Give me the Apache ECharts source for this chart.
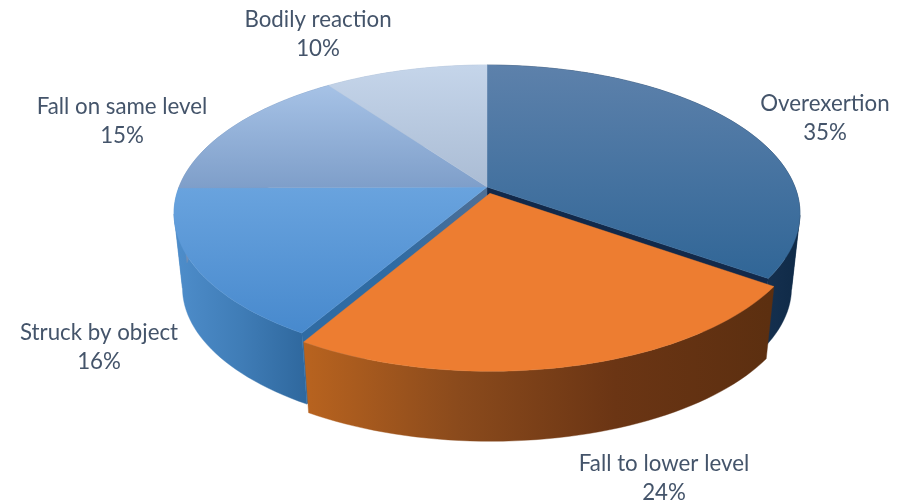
<!DOCTYPE html>
<html>
<head>
<meta charset="utf-8">
<script src="https://cdn.jsdelivr.net/npm/echarts@6/dist/echarts.min.js"></script>
<style>
html, body { margin: 0; padding: 0; background: #fff; }
#main { width: 901px; height: 504px; }
</style>
</head>
<body>
<div id="main"></div>
<script>
var categories = ['Overexertion', 'Fall to lower level', 'Struck by object', 'Fall on same level', 'Bodily reaction'];
var values = [34.7, 23.8, 16.4, 15.1, 10];

// fake 3D camera, fitted to the picture
var cx = 487, cy = 187, rx = 308, ry = 143.7, persp = 0.178;
var depth = 75, floorScale = 0.973, explodeBy = 0.045;
var explodedIndex = 1;

function vgrad(y1, y2, c1, c2) {
    return { type: 'linear', x: 0, y: y1, x2: 0, y2: y2, global: true,
        colorStops: [{ offset: 0, color: c1 }, { offset: 1, color: c2 }] };
}
function hgrad(x1, x2, stops) {
    return { type: 'linear', x: x1, y: 0, x2: x2, y2: 0, global: true,
        colorStops: stops.map(function (c, i) { return { offset: i / (stops.length - 1), color: c }; }) };
}

var topFills = [
    vgrad(65, 285, '#5d81ab', '#2f6596'),
    '#ed7d31',
    vgrad(187, 335, '#69a3de', '#4789cd'),
    vgrad(85, 189, '#a6c2e6', '#7e9ec9'),
    vgrad(65, 187, '#c5d5ea', '#aabcd4')
];
var sideFills = [
    hgrad(765, 800, ['#15304f', '#0f2a47']),
    hgrad(305, 770, ['#b8631f', '#8a4a1c', '#6b3514', '#5c2f10']),
    hgrad(180, 305, ['#4d8cc9', '#3f7cb6', '#2f689e']),
    '#6f8fb8',
    '#9fb2cc'
];
// cut faces next to the exploded slice, the others never show
var wallFills = { 0: '#12294a', 2: hgrad(300, 487, ['#2f6ba3', '#2f6ba3', '#4f6f95']) };
var labelCentres = [[825, 118.5], [664, 478.5], [99, 347.5], [122, 121.5], [318, 34.5]];

var total = values.reduce(function (a, b) { return a + b; }, 0);

function project(theta, r, ox, oy) {
    var u = ox + r * Math.sin(theta), v = oy + r * Math.cos(theta);
    var w = 1 + persp * v;
    return [cx + rx * u / w, cy - ry * v / w];
}
function lower(p) {
    return [cx + (p[0] - cx) * floorScale, cy + (p[1] - cy) * floorScale + depth];
}
function polygon(points, fill, z2) {
    return { type: 'polygon', z2: z2, shape: { points: points },
        style: { fill: fill, stroke: fill, lineWidth: 0.4 }, silent: true };
}
// side band, cut where the rim turns back in x: one folded polygon cancels out at the silhouette
function sideBands(rim, fill, z2) {
    var bands = [], run = [rim[0]];
    for (var q = 1; q < rim.length; q++) {
        run.push(rim[q]);
        var turns = q < rim.length - 1 &&
            (rim[q][0] - rim[q - 1][0]) * (rim[q + 1][0] - rim[q][0]) < 0;
        if (turns || q === rim.length - 1) {
            bands.push(polygon(run.concat(run.map(lower).reverse()), fill, z2));
            run = [rim[q]];
        }
    }
    return bands;
}

function renderSlice(params, api) {
    var i = params.dataIndex, before = 0;
    for (var k = 0; k < i; k++) { before += values[k]; }
    var a0 = before / total * Math.PI * 2;
    var a1 = (before + api.value(0)) / total * Math.PI * 2;
    var mid = (a0 + a1) / 2;
    var exploded = i === explodedIndex;
    var ox = exploded ? explodeBy * Math.sin(mid) : 0;
    var oy = exploded ? explodeBy * Math.cos(mid) : 0;
    var base = exploded ? 4 : 0;

    var rim = [];
    var steps = Math.max(4, Math.ceil((a1 - a0) / 0.03));
    for (var s = 0; s <= steps; s++) {
        rim.push(project(a0 + (a1 - a0) * s / steps, 1, ox, oy));
    }
    var apex = project(0, 0, ox, oy);
    var children = sideBands(rim, sideFills[i], base + 1);

    if (i === explodedIndex - 1) {
        var last = rim[rim.length - 1];
        children.push(polygon([apex, last, lower(last), lower(apex)], wallFills[i], base + 2));
    }
    if (i === explodedIndex + 1) {
        var first = rim[0];
        children.push(polygon([apex, first, lower(first), lower(apex)], wallFills[i], base + 2));
    }
    children.push(polygon([apex].concat(rim), topFills[i], base + 3));

    children.push({
        type: 'text', z2: 10, silent: true,
        style: {
            x: labelCentres[i][0], y: labelCentres[i][1],
            text: categories[i] + '\n' + Math.round(api.value(0)) + '%',
            align: 'center', verticalAlign: 'middle',
            fontFamily: 'Lato', fontSize: 22.3, lineHeight: 28.5, fill: '#44546a'
        }
    });
    return { type: 'group', children: children };
}

var myChart = echarts.init(document.getElementById('main'));
myChart.setOption({
    animation: false,
    backgroundColor: '#fff',
    series: [{
        type: 'custom',
        coordinateSystem: 'none',
        renderItem: renderSlice,
        data: values.map(function (v) { return [v]; })
    }]
});
</script>
</body>
</html>
